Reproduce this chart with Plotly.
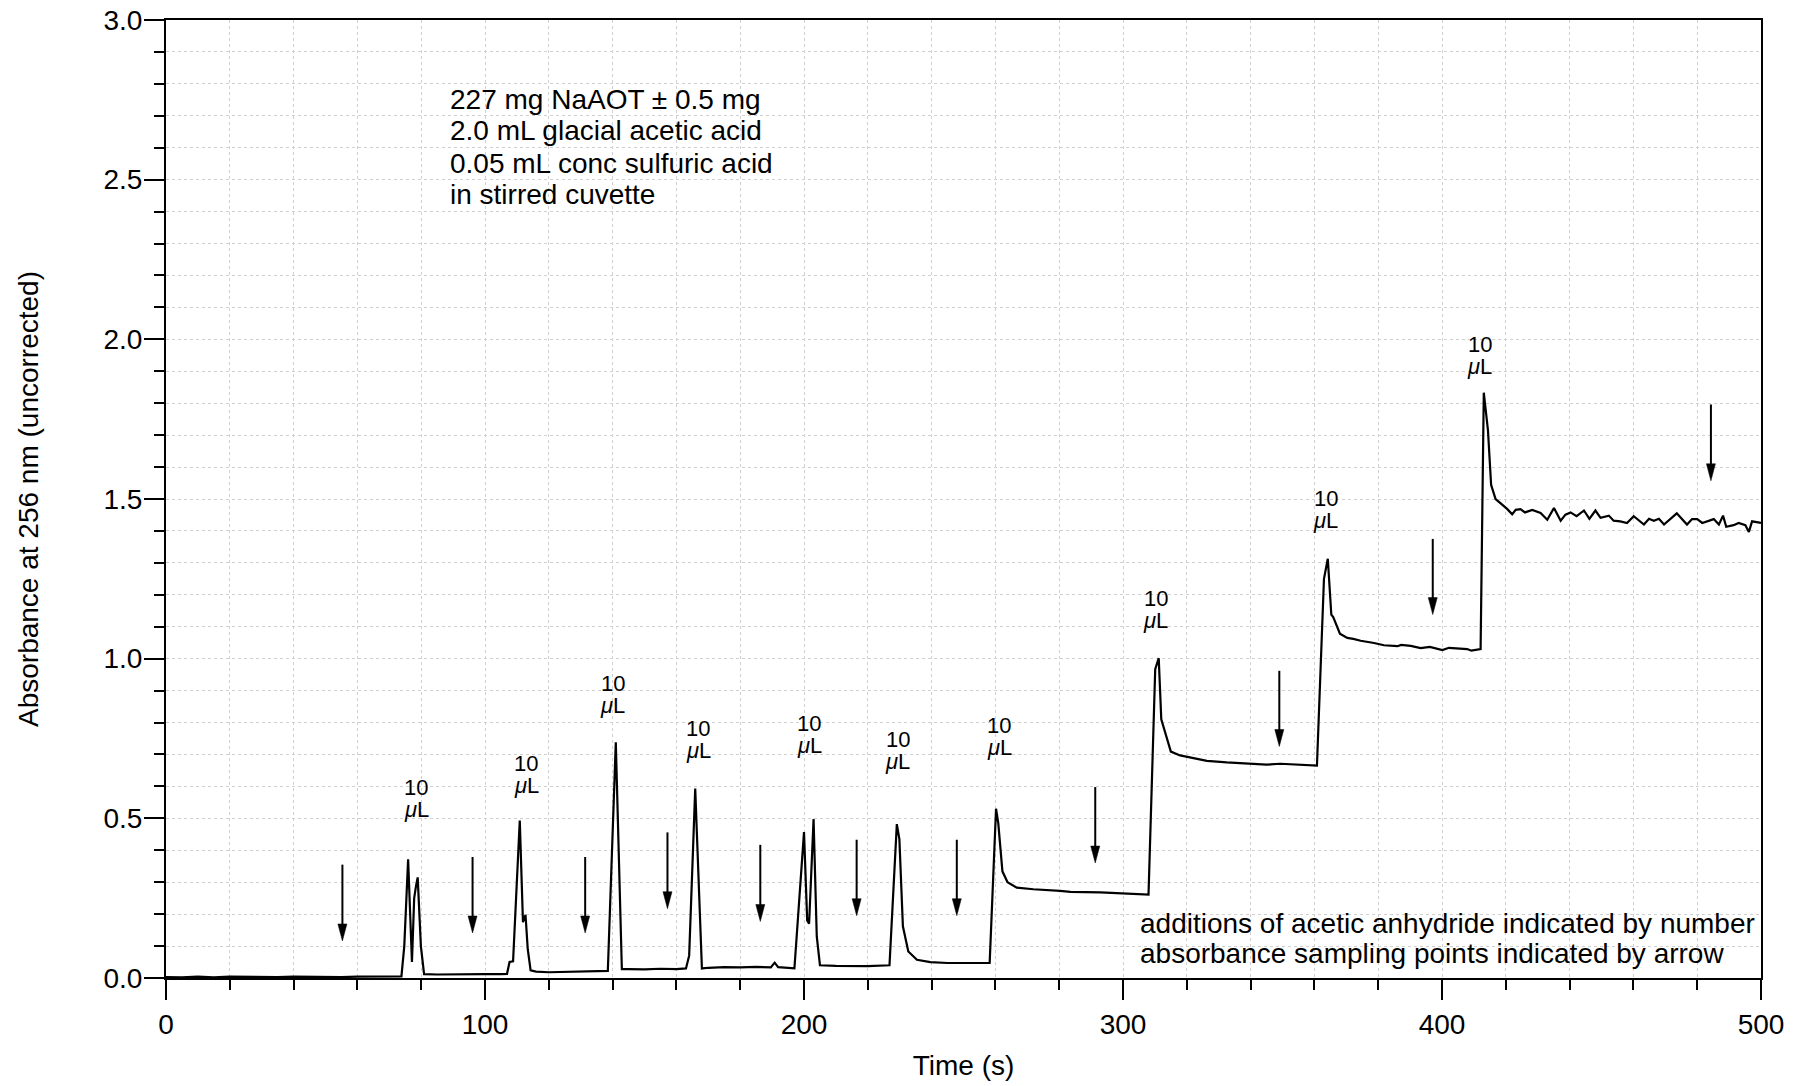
import plotly.graph_objects as go

# ---------------- data ----------------
time_s = [0, 5, 10, 15, 20, 25, 30, 35, 40, 45, 50, 55, 60, 65, 70, 73.8,
          74.7, 75.9, 77.1, 77.8, 78.4, 78.9, 79.9, 80.9,
          85, 90, 95, 100, 105, 106.9,
          107.7, 108.8, 110.9, 111.9, 112.7, 113.4, 114.3, 116, 120, 125, 130, 135, 138.5,
          141.0, 142.9, 145, 150, 155, 160, 163.0,
          164.0, 165.9, 167.4, 168.0, 170, 175, 180, 185, 189.6, 190.8, 191.9, 195, 197.0,
          200.0, 201.0, 201.6, 203.0, 204.0, 205.0, 210, 215, 220, 226.8,
          229.1, 229.9, 231.0, 232.7, 235.4, 239.6, 245, 250, 255, 258.2,
          260.2, 260.9, 262.2, 263.8, 266.7, 271.9, 280.3, 283.5, 292.9, 300, 308.0,
          310.1, 311.2, 312.0, 315.0, 317.9, 320.0, 326.3, 332.5, 339.9, 345, 349.3, 355.6, 360.8,
          363.0, 364.2, 365.3, 365.9, 368.0, 370.3, 372.2, 374.5, 378.7, 381.8, 386.0, 387.2,
          390.2, 393.3, 396.2, 400.1, 402.2, 407.9, 409.2, 412.1,
          413.1, 414.4, 415.4, 416.8, 418.3, 420.4, 422.0, 423.1, 424.6, 426.0, 428.3, 430.9,
          433.0, 435.1, 437.2, 438.7, 440.3, 442.2, 444.5, 446.2, 448.1, 449.7, 452.3, 453.8,
          455.9, 458.0, 460.1, 463.3, 464.9, 466.4, 468.0, 469.6, 473.6, 476.8, 478.4, 480.0,
          481.6, 485.2, 486.8, 488.1, 489.1, 491.4, 493.0, 495.1, 496.2, 497.2, 500]
absorbance = [0.003, 0.002, 0.004, 0.002, 0.004, 0.003, 0.004, 0.003, 0.004, 0.003, 0.004, 0.003, 0.004, 0.004, 0.004, 0.005,
              0.10, 0.372, 0.05, 0.25, 0.29, 0.315, 0.10, 0.012,
              0.011, 0.012, 0.011, 0.012, 0.012, 0.013,
              0.05, 0.052, 0.493, 0.175, 0.198, 0.09, 0.024, 0.020, 0.018, 0.019, 0.019, 0.019, 0.022,
              0.738, 0.028, 0.028, 0.027, 0.029, 0.028, 0.030,
              0.07, 0.593, 0.14, 0.030, 0.032, 0.034, 0.033, 0.035, 0.033, 0.048, 0.034, 0.032, 0.030,
              0.457, 0.18, 0.17, 0.498, 0.13, 0.04, 0.038, 0.038, 0.037, 0.040,
              0.482, 0.435, 0.162, 0.083, 0.057, 0.050, 0.047, 0.047, 0.047, 0.047,
              0.530, 0.485, 0.334, 0.300, 0.283, 0.278, 0.273, 0.270, 0.268, 0.265, 0.261,
              0.967, 1.0015, 0.81, 0.709, 0.697, 0.693, 0.680, 0.675, 0.671, 0.668, 0.671, 0.667, 0.665,
              1.25, 1.313, 1.138, 1.130, 1.078, 1.065, 1.062, 1.056, 1.049, 1.042, 1.039, 1.043,
              1.040, 1.033, 1.037, 1.027, 1.034, 1.030, 1.025, 1.030,
              1.833, 1.716, 1.544, 1.500, 1.487, 1.469, 1.452, 1.466, 1.468, 1.458, 1.466, 1.456,
              1.435, 1.472, 1.432, 1.451, 1.458, 1.446, 1.464, 1.438, 1.464, 1.441, 1.448, 1.432,
              1.430, 1.425, 1.446, 1.420, 1.438, 1.432, 1.438, 1.420, 1.455, 1.420, 1.437, 1.437,
              1.425, 1.437, 1.420, 1.448, 1.413, 1.418, 1.425, 1.418, 1.397, 1.430, 1.425]

# additions of acetic anhydride (label positions)
addition_time = [78.4, 112.9, 140.1, 166.9, 201.6, 229.4, 261.2, 310.3, 363.6, 411.9]
addition_label_y = [0.596, 0.673, 0.921, 0.781, 0.796, 0.746, 0.791, 1.187, 1.501, 1.984]
addition_amount = ["10"] * 10
addition_unit = "<i>\u03bc</i>L"

# absorbance sampling points (arrows)
sample_time = [55.3, 96.1, 131.4, 157.2, 186.3, 216.5, 247.9, 291.3, 349.0, 397.1, 484.3]
arrow_top = [0.355, 0.379, 0.379, 0.456, 0.417, 0.433, 0.433, 0.598, 0.962, 1.375, 1.796]
arrow_tip = [0.116, 0.141, 0.141, 0.217, 0.177, 0.195, 0.195, 0.360, 0.725, 1.138, 1.557]

info_lines = ["227 mg NaAOT \u00b1 0.5 mg", "2.0 mL glacial acetic acid",
              "0.05 mL conc sulfuric acid", "in stirred cuvette"]
note_lines = ["additions of acetic anhydride indicated by number",
              "absorbance sampling points indicated by arrow"]

x_ticks = [0, 100, 200, 300, 400, 500]
y_ticks = [0.0, 0.5, 1.0, 1.5, 2.0, 2.5, 3.0]

# ---------------- layout geometry ----------------
W, H = 1807, 1086
ML, MR, MT, MB = 166, 46, 20, 108
PW, PH = W - ML - MR, H - MT - MB
XR, YR = (0, 500), (0, 3)
FONT = "Liberation Sans, Arial, Helvetica, sans-serif"


def px_x(px):
    return (px - ML) / PW


def px_y(py):
    return (H - MB - py) / PH


sec_per_px = (XR[1] - XR[0]) / PW
abs_per_px = (YR[1] - YR[0]) / PH

fig = go.Figure()
fig.add_trace(go.Scatter(x=time_s, y=absorbance, mode="lines",
                         line=dict(color="black", width=2.2), showlegend=False,
                         hoverinfo="skip"))

shapes = []
head_half_w = 4.5 * sec_per_px
head_len = 17 * abs_per_px
for t, top, tip in zip(sample_time, arrow_top, arrow_tip):
    shapes.append(dict(type="line", xref="x", yref="y", x0=t, x1=t, y0=top, y1=tip + head_len * 0.9,
                       line=dict(color="black", width=2)))
    shapes.append(dict(type="path", xref="x", yref="y",
                       path=f"M{t - head_half_w},{tip + head_len} L{t + head_half_w},{tip + head_len} L{t},{tip} Z",
                       fillcolor="black", line=dict(color="black", width=0.5)))

annotations = []
line_gap = 22 * abs_per_px
for t, yl, amt in zip(addition_time, addition_label_y, addition_amount):
    annotations.append(dict(x=t, y=yl, xref="x", yref="y", text=amt, showarrow=False,
                            xanchor="center", yanchor="middle", font=dict(size=22, color="black", family=FONT)))
    annotations.append(dict(x=t, y=yl - line_gap, xref="x", yref="y", text=addition_unit, showarrow=False,
                            xanchor="center", yanchor="middle", font=dict(size=22, color="black", family=FONT)))

for i, txt in enumerate(info_lines):
    annotations.append(dict(x=px_x(448), y=px_y(99 + 32 * i), xref="paper", yref="paper", text=txt,
                            showarrow=False, xanchor="left", yanchor="middle",
                            font=dict(size=28, color="black", family=FONT)))
for i, txt in enumerate(note_lines):
    annotations.append(dict(x=px_x(1138), y=px_y(923 + 30.5 * i), xref="paper", yref="paper", text=txt,
                            showarrow=False, xanchor="left", yanchor="middle",
                            font=dict(size=28, color="black", family=FONT)))

grid_col = "#d0d0d0"
fig.update_layout(
    width=W, height=H,
    margin=dict(l=ML, r=MR, t=MT, b=MB, pad=0, autoexpand=False),
    paper_bgcolor="white", plot_bgcolor="white",
    font=dict(family=FONT, size=28, color="black"),
    shapes=shapes, annotations=annotations,
    xaxis=dict(range=list(XR), tickvals=x_ticks, ticktext=[str(v) for v in x_ticks],
               automargin=False,
               ticks="outside", ticklen=20, tickwidth=2, tickcolor="black",
               showline=True, linecolor="black", linewidth=2, mirror=True,
               showgrid=True, gridcolor=grid_col, griddash="dot", gridwidth=1,
               zeroline=False,
               minor=dict(dtick=20, tick0=0, ticks="outside", ticklen=10, tickwidth=2, tickcolor="black",
                          showgrid=True, gridcolor=grid_col, griddash="dot", gridwidth=1),
               title=dict(text="Time (s)", standoff=17, font=dict(size=28))),
    yaxis=dict(range=list(YR), tickvals=y_ticks, ticktext=[f"{v:.1f}" for v in y_ticks],
               automargin=False, ticklabelstandoff=-4,
               ticks="outside", ticklen=20, tickwidth=2, tickcolor="black",
               showline=True, linecolor="black", linewidth=2, mirror=True,
               showgrid=True, gridcolor=grid_col, griddash="dot", gridwidth=1,
               zeroline=False,
               minor=dict(dtick=0.1, tick0=0, ticks="outside", ticklen=10, tickwidth=2, tickcolor="black",
                          showgrid=True, gridcolor=grid_col, griddash="dot", gridwidth=1),
               title=dict(text="Absorbance at 256 nm (uncorrected)", standoff=57, font=dict(size=28))),
)

fig.write_html("out.html", include_plotlyjs=True, config={"displayModeBar": False},
               post_script="document.body.style.margin='0';document.body.style.overflow='hidden';")
